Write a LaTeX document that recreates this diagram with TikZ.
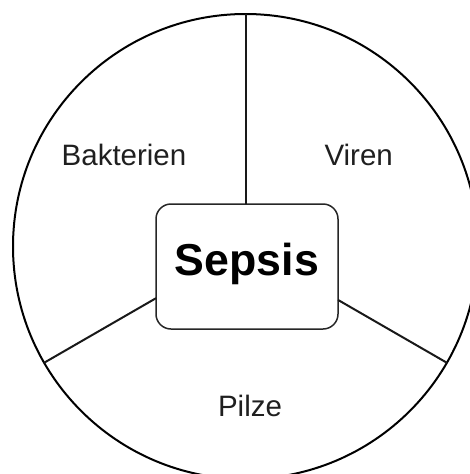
\documentclass[tikz,border=0pt]{standalone}
\usepackage{fontspec}
\setmainfont{Liberation Sans}
\usetikzlibrary{calc}
\tikzset{
  ring/.style={circle, draw=black, line width=2pt, minimum size=465pt, inner sep=0pt, outer sep=0pt},
  centerbox/.style={rectangle, rounded corners=15pt, draw=black!85, line width=1.5pt, fill=white,
    minimum width=182pt, minimum height=125pt, inner sep=0pt, outer sep=0pt},
  divider/.style={line width=2pt, draw=black!90},
  sector/.style={anchor=base, inner sep=0pt, font=\fontsize{29.5}{32}\selectfont, text=black!88},
  title/.style={anchor=base, inner sep=0pt, font=\bfseries\fontsize{44.7}{48}\selectfont}
}
\begin{document}
\begin{tikzpicture}[x=1pt,y=-1pt]
\useasboundingbox (0,0) rectangle (469,474);
\node[ring] (circ) at (245.5,246.5) {};
\node[centerbox] (box) at (247,266.5) {};
\draw[divider] (circ.north) -- (circ.north |- box.north);
\draw[divider] (circ.210) -- (intersection of circ.center--circ.210 and box.north west--box.south west);
\draw[divider] (circ.330) -- (intersection of circ.center--circ.330 and box.north east--box.south east);
\node[title] (sepsis) at (247,275) {Sepsis};
\node[sector] (bakt) at (124,165.7) {Bakterien};
\node[sector] (viren) at (358.7,165.7) {Viren};
\node[sector] (pilze) at (250,416.7) {Pilze};
\end{tikzpicture}
\end{document}
